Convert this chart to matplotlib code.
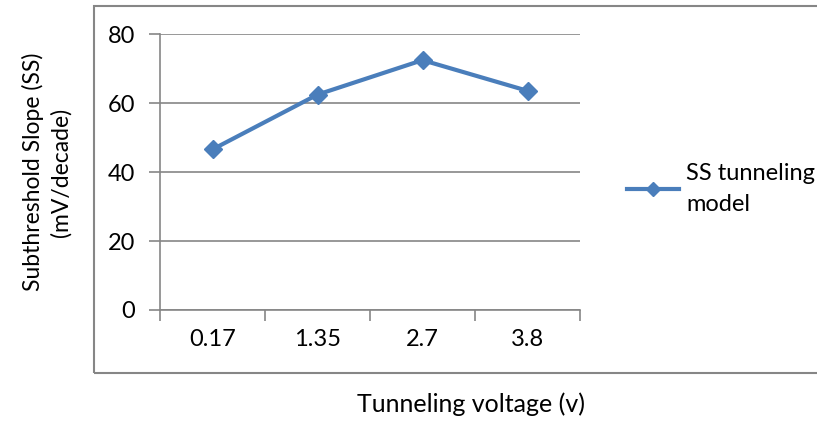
import matplotlib.pyplot as plt
from matplotlib.patches import Rectangle

# datos
voltajes = ["0.17", "1.35", "2.7", "3.8"]
ss_tunel = [46.6, 62.5, 72.5, 63.6]
y_ticks = [0, 20, 40, 60, 80]

azul = "#4a7ebb"
gris = "#868686"

plt.rcParams['font.family'] = ['Lato', 'DejaVu Sans']

fig = plt.figure(figsize=(8.17, 4.21), dpi=100)
ax = fig.add_axes([160/817, 1 - 310/421, 420/817, (310 - 34.3)/421])

x = list(range(len(voltajes)))
ax.plot(x, ss_tunel, color=azul, lw=3, marker='D', ms=9,
        label="SS tunneling\nmodel", zorder=3)

ax.set_xlim(-0.5, len(voltajes) - 0.5)
ax.set_ylim(0, 80)
ax.set_yticks(y_ticks)
ax.set_xticks(x)
ax.set_xticklabels(voltajes)
ax.set_xticks([i - 0.5 for i in range(len(voltajes) + 1)], minor=True)
ax.tick_params(axis='x', which='major', length=0, pad=14, labelsize=17)
ax.tick_params(axis='x', which='minor', length=8, color=gris, width=1.2)
ax.tick_params(axis='y', length=8, color=gris, width=1.2, pad=10, labelsize=17)
ax.grid(axis='y', color=gris, lw=1.2)
ax.set_axisbelow(True)
for lado in ['top', 'right']:
    ax.spines[lado].set_visible(False)
for lado in ['left', 'bottom']:
    ax.spines[lado].set_color(gris)
    ax.spines[lado].set_linewidth(1.2)

# ejes y leyenda
fig.text(47/817, 1 - 172/421, "Subthreshold Slope (SS)\n(mV/decade)",
         rotation=90, ha='center', va='center', fontsize=16.5, linespacing=1.35)
fig.text(471/817, 1 - 404/421, "Tunneling voltage (v)", ha='center',
         va='center', fontsize=18)
leg = ax.legend(loc='center left', bbox_to_anchor=(606/817, 1 - 189/421),
                bbox_transform=fig.transFigure, frameon=False, fontsize=17,
                handlelength=2.2, handletextpad=0.3, markerscale=0.8)
leg.get_texts()[0].set_linespacing(1.6)

# marco exterior
fig.patches.append(Rectangle((94/817, 1 - 373/421), 1, (373 - 6)/421,
                             transform=fig.transFigure, fill=False,
                             edgecolor=gris, lw=1.5))

fig.savefig("out.png", dpi=100)
